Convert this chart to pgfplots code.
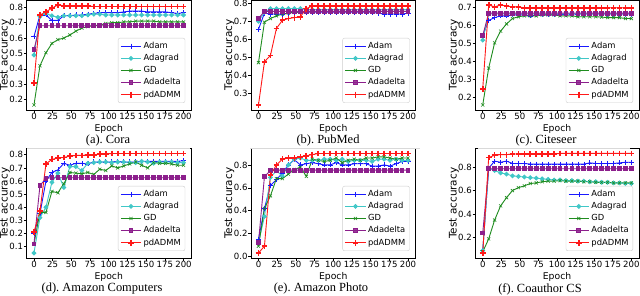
\documentclass[border=0pt]{standalone}
\usepackage{pgfplots}
\pgfplotsset{compat=1.18}
\usepackage{pgfplotstable}
\usepackage{fontspec}
\setmainfont{Liberation Serif}
\newfontfamily\dv{DejaVu Sans}

\definecolor{cAdam}{rgb}{0.1,0.1,1}
\definecolor{cAdagrad}{rgb}{0.25,0.78,0.78}
\definecolor{cGD}{rgb}{0.12,0.55,0.12}
\definecolor{cAdadelta}{rgb}{0.55,0.12,0.55}
\definecolor{cPd}{rgb}{1,0.1,0.1}

\pgfplotstableread{
ep adam adagrad gd adadelta pd
0 0.61 0.49 0.165 0.525 0.31
8 0.75 0.74 0.42 0.68 0.75
16 0.75 0.76 0.505 0.68 0.77
24 0.715 0.745 0.565 0.68 0.795
32 0.715 0.735 0.59 0.68 0.815
40 0.745 0.745 0.60 0.68 0.81
48 0.745 0.745 0.62 0.68 0.81
56 0.75 0.745 0.645 0.68 0.81
64 0.75 0.745 0.665 0.68 0.81
72 0.755 0.75 0.675 0.68 0.81
80 0.76 0.755 0.68 0.68 0.805
88 0.765 0.755 0.685 0.68 0.805
96 0.765 0.75 0.695 0.68 0.805
104 0.765 0.75 0.70 0.68 0.805
112 0.765 0.75 0.70 0.68 0.805
120 0.77 0.75 0.705 0.68 0.805
128 0.775 0.75 0.705 0.68 0.805
136 0.775 0.75 0.71 0.68 0.805
144 0.775 0.75 0.71 0.68 0.805
152 0.77 0.75 0.71 0.68 0.805
160 0.77 0.75 0.71 0.68 0.805
168 0.77 0.75 0.705 0.68 0.805
176 0.77 0.75 0.705 0.68 0.805
184 0.765 0.75 0.705 0.68 0.805
192 0.76 0.75 0.705 0.68 0.805
200 0.765 0.75 0.705 0.68 0.805
}\cora

\pgfplotstableread{
ep adam adagrad gd adadelta pd
0 0.655 0.70 0.47 0.715 0.235
8 0.745 0.75 0.695 0.755 0.475
16 0.74 0.77 0.715 0.755 0.51
24 0.74 0.77 0.73 0.755 0.66
32 0.74 0.77 0.74 0.755 0.705
40 0.745 0.77 0.745 0.755 0.715
48 0.75 0.77 0.75 0.755 0.72
56 0.75 0.77 0.75 0.755 0.725
64 0.75 0.765 0.755 0.755 0.77
72 0.75 0.765 0.755 0.755 0.785
80 0.75 0.765 0.755 0.755 0.785
88 0.75 0.765 0.755 0.755 0.785
96 0.75 0.765 0.755 0.755 0.785
104 0.75 0.765 0.755 0.755 0.785
112 0.75 0.765 0.755 0.755 0.785
120 0.75 0.765 0.755 0.755 0.785
128 0.75 0.765 0.755 0.755 0.785
136 0.75 0.765 0.755 0.755 0.785
144 0.75 0.765 0.755 0.755 0.785
152 0.75 0.765 0.755 0.755 0.785
160 0.745 0.765 0.755 0.755 0.785
168 0.74 0.765 0.755 0.755 0.785
176 0.74 0.765 0.755 0.755 0.785
184 0.74 0.765 0.755 0.755 0.785
192 0.74 0.765 0.755 0.755 0.785
200 0.745 0.765 0.755 0.755 0.785
}\pubmed

\pgfplotstableread{
ep adam adagrad gd adadelta pd
0 0.545 0.52 0.16 0.545 0.25
8 0.63 0.665 0.365 0.67 0.715
16 0.645 0.665 0.505 0.67 0.705
24 0.655 0.665 0.57 0.67 0.715
32 0.655 0.665 0.61 0.67 0.71
40 0.66 0.665 0.64 0.67 0.705
48 0.66 0.665 0.65 0.67 0.705
56 0.66 0.665 0.655 0.67 0.70
64 0.655 0.665 0.655 0.67 0.70
72 0.66 0.665 0.655 0.67 0.70
80 0.66 0.665 0.66 0.67 0.70
88 0.66 0.665 0.66 0.67 0.70
96 0.66 0.665 0.66 0.67 0.70
104 0.665 0.665 0.655 0.67 0.70
112 0.665 0.665 0.655 0.67 0.70
120 0.665 0.665 0.655 0.67 0.70
128 0.665 0.665 0.65 0.67 0.70
136 0.665 0.665 0.65 0.67 0.70
144 0.665 0.665 0.65 0.67 0.70
152 0.665 0.665 0.65 0.67 0.70
160 0.665 0.665 0.648 0.67 0.70
168 0.665 0.665 0.645 0.67 0.70
176 0.665 0.665 0.645 0.67 0.70
184 0.665 0.665 0.645 0.67 0.70
192 0.665 0.665 0.64 0.67 0.70
200 0.665 0.665 0.64 0.67 0.70
}\citeseer

\pgfplotstableread{
ep adam adagrad gd adadelta pd
0 0.20 0.05 0.12 0.12 0.21
8 0.35 0.32 0.36 0.565 0.37
16 0.60 0.40 0.36 0.62 0.73
24 0.665 0.59 0.52 0.625 0.765
32 0.685 0.66 0.51 0.625 0.775
40 0.735 0.55 0.58 0.625 0.78
48 0.72 0.71 0.665 0.625 0.79
56 0.735 0.71 0.66 0.625 0.795
64 0.735 0.68 0.655 0.625 0.795
72 0.73 0.735 0.665 0.625 0.80
80 0.745 0.74 0.65 0.625 0.80
88 0.745 0.745 0.69 0.625 0.805
96 0.745 0.745 0.68 0.625 0.805
104 0.745 0.74 0.715 0.625 0.81
112 0.75 0.745 0.70 0.625 0.81
120 0.745 0.745 0.715 0.625 0.81
128 0.745 0.74 0.73 0.625 0.81
136 0.745 0.74 0.745 0.625 0.81
144 0.75 0.75 0.72 0.625 0.81
152 0.75 0.745 0.70 0.625 0.81
160 0.75 0.735 0.74 0.625 0.81
168 0.75 0.745 0.735 0.625 0.81
176 0.75 0.745 0.735 0.625 0.81
184 0.75 0.745 0.73 0.625 0.81
192 0.75 0.74 0.72 0.625 0.81
200 0.755 0.74 0.72 0.625 0.81
}\computers

\pgfplotstableread{
ep adam adagrad gd adadelta pd
0 0.15 0.12 0.09 0.12 0.03
8 0.42 0.35 0.42 0.70 0.09
16 0.62 0.69 0.53 0.75 0.71
24 0.67 0.75 0.68 0.755 0.80
32 0.73 0.70 0.68 0.755 0.85
40 0.80 0.80 0.72 0.755 0.86
48 0.845 0.85 0.76 0.755 0.86
56 0.80 0.86 0.78 0.755 0.87
64 0.81 0.84 0.70 0.755 0.88
72 0.82 0.84 0.85 0.755 0.89
80 0.81 0.84 0.84 0.755 0.90
88 0.80 0.85 0.83 0.755 0.90
96 0.80 0.85 0.84 0.755 0.90
104 0.82 0.84 0.86 0.755 0.90
112 0.80 0.85 0.82 0.755 0.90
120 0.80 0.83 0.84 0.755 0.90
128 0.81 0.84 0.85 0.755 0.90
136 0.81 0.84 0.84 0.755 0.90
144 0.81 0.84 0.86 0.755 0.90
152 0.79 0.83 0.86 0.755 0.90
160 0.79 0.85 0.87 0.755 0.90
168 0.80 0.85 0.87 0.755 0.90
176 0.79 0.84 0.86 0.755 0.90
184 0.81 0.85 0.85 0.755 0.90
192 0.83 0.84 0.86 0.755 0.90
200 0.83 0.84 0.86 0.755 0.90
}\photo

\pgfplotstableread{
ep adam adagrad gd adadelta pd
0 0.09 0.09 0.08 0.24 0.07
8 0.79 0.79 0.19 0.785 0.88
16 0.85 0.77 0.35 0.785 0.90
24 0.84 0.75 0.47 0.785 0.905
32 0.85 0.74 0.54 0.785 0.905
40 0.83 0.725 0.60 0.785 0.91
48 0.83 0.72 0.625 0.785 0.91
56 0.83 0.715 0.64 0.785 0.91
64 0.825 0.71 0.66 0.785 0.91
72 0.825 0.705 0.665 0.785 0.91
80 0.825 0.70 0.675 0.785 0.91
88 0.825 0.695 0.68 0.785 0.91
96 0.825 0.69 0.68 0.785 0.91
104 0.825 0.69 0.685 0.785 0.915
112 0.825 0.685 0.68 0.785 0.915
120 0.825 0.685 0.68 0.785 0.915
128 0.825 0.68 0.68 0.785 0.915
136 0.825 0.68 0.675 0.785 0.915
144 0.835 0.675 0.675 0.785 0.915
152 0.83 0.675 0.67 0.785 0.915
160 0.83 0.67 0.67 0.785 0.915
168 0.83 0.67 0.67 0.785 0.915
176 0.83 0.665 0.665 0.785 0.915
184 0.835 0.665 0.665 0.785 0.915
192 0.84 0.66 0.665 0.785 0.915
200 0.84 0.66 0.665 0.785 0.915
}\coauthor

\pgfplotsset{
  panel/.style={
    scale only axis, anchor=south west,
    xmin=-10, xmax=210, xtick={0,25,...,200},
    tick align=outside, tick pos=left, major tick length=2.7bp,
    axis line style={line width=0.6bp},
    every tick/.style={black, line width=0.6bp},
    ticklabel style={font=\dv\fontsize{8.6}{10}\selectfont, inner sep=0.6bp},
    /pgf/number format/assume math mode=true,
    yticklabel style={/pgf/number format/.cd, fixed, fixed zerofill, precision=1},
    xlabel style={font=\dv\fontsize{9.3}{10}\selectfont, inner sep=1bp, yshift=-2.5bp},
    ylabel style={font=\dv\fontsize{10.5}{12}\selectfont, inner sep=0pt,
      at={(axis description cs:-0.1143,0.5)}, anchor=base},
    xlabel={Epoch}, ylabel={Test accuracy},
    legend cell align=left,
    legend image code/.code={%
      \draw[mark repeat=2, mark phase=2] plot coordinates {(0cm,0cm) (0.36cm,0cm) (0.72cm,0cm)};},
    legend style={at={(0.965,0.064)}, anchor=south east,
      draw=black!20, rounded corners=2bp, fill=white, fill opacity=0.85, text opacity=1,
      font=\dv\fontsize{8.4}{9.5}\selectfont, row sep=0.3bp, inner sep=2.2bp},
  },
  sAdam/.style={color=cAdam, line width=0.9bp, mark=+, mark size=2.5bp, mark options={line width=0.6bp}},
  sAdagrad/.style={color=cAdagrad, line width=0.9bp, mark=*, mark size=1.9bp},
  sGD/.style={color=cGD, line width=0.9bp, mark=x, mark size=2.2bp, mark options={line width=0.6bp}},
  sAdadelta/.style={color=cAdadelta, line width=0.9bp, mark=square*, mark size=1.9bp},
  sPd/.style={color=cPd, line width=0.9bp, mark=+, mark size=2.9bp, mark options={line width=1.7bp}},
}

\newcommand{\allseries}[1]{%
  \addplot[sAdam] table[x=ep,y=adam] {#1};
  \addplot[sAdagrad] table[x=ep,y=adagrad] {#1};
  \addplot[sGD] table[x=ep,y=gd] {#1};
  \addplot[sAdadelta] table[x=ep,y=adadelta] {#1};
  \addplot[sPd] table[x=ep,y=pd] {#1};
  \legend{Adam,Adagrad,GD,Adadelta,pdADMM}
}

\begin{document}
\begin{tikzpicture}

\begin{axis}[panel, at={(26.5bp,186bp)}, width=164.5bp, height=110bp,
  ymin=0.1325, ymax=0.8475, ytick={0.2,0.3,...,0.8}]
\allseries{\cora}
\end{axis}

\begin{axis}[panel, at={(251bp,186bp)}, width=164.5bp, height=110bp,
  ymin=0.207, ymax=0.818, ytick={0.3,0.4,...,0.8}]
\allseries{\pubmed}
\end{axis}

\begin{axis}[panel, at={(475.3bp,186bp)}, width=163.5bp, height=110bp,
  ymin=0.132, ymax=0.743, ytick={0.2,0.3,...,0.7}]
\allseries{\citeseer}
\end{axis}

\begin{axis}[panel, at={(26.5bp,38bp)}, width=164.5bp, height=109.5bp,
  ymin=0.012, ymax=0.848, ytick={0.1,0.2,...,0.8}]
\allseries{\computers}
\end{axis}

\begin{axis}[panel, at={(251bp,38bp)}, width=164.5bp, height=109.5bp,
  ymin=-0.0135, ymax=0.9435, ytick={0,0.2,0.4,0.6,0.8}]
\allseries{\photo}
\end{axis}

\begin{axis}[panel, at={(475.3bp,38bp)}, width=163.5bp, height=109.5bp,
  ymin=0.028, ymax=0.957, ytick={0.2,0.4,0.6,0.8}]
\allseries{\coauthor}
\end{axis}

\tikzset{capt/.style={font=\fontsize{12.5}{14}\selectfont, inner sep=0pt}}
\node[capt] at (108bp,155bp) {(a).~Cora};
\node[capt] at (328bp,155bp) {(b).~PubMed};
\node[capt] at (546bp,155bp) {(c).~Citeseer};
\node[capt] at (102bp,7bp) {(d).~Amazon Computers};
\node[capt] at (321bp,7bp) {(e).~Amazon Photo};
\node[capt] at (540bp,7bp) {(f).~Coauthor CS};

\draw[black!15, line width=0.6bp] (27bp,148bp) -- (190bp,148bp);
\draw[black!15, line width=0.6bp] (250bp,148bp) -- (420bp,148bp);
\draw[black!15, line width=0.6bp] (478bp,148bp) -- (630bp,148bp);

\pgfresetboundingbox
\useasboundingbox (0,0) rectangle (640bp,296bp);
\end{tikzpicture}
\end{document}
